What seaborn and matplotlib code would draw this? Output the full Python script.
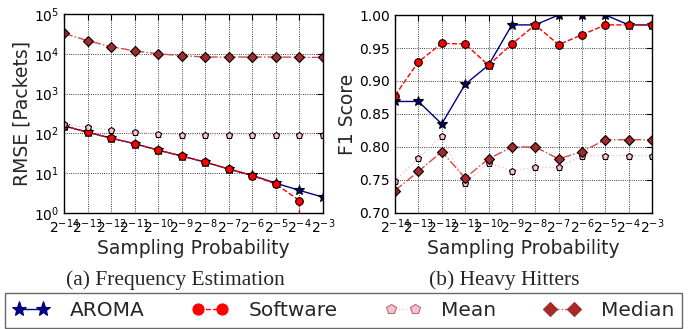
import matplotlib
matplotlib.use('Agg')
import matplotlib.pyplot as plt
from matplotlib.lines import Line2D
import seaborn as sns
import pandas as pd

# sampling probabilities 2^-14 ... 2^-3
sampling_prob = [2**-14, 2**-13, 2**-12, 2**-11, 2**-10, 2**-9,
                 2**-8, 2**-7, 2**-6, 2**-5, 2**-4, 2**-3]

# (a) frequency estimation, RMSE in packets
rmse_aroma = [155, 107, 76, 55, 38, 27, 19, 12.7, 8.8, 5.6, 3.7, 2.5]
rmse_software = [155, 107, 76, 55, 38, 27, 19, 12.7, 8.7, 5.3, 2.05, 0]
rmse_mean = [170, 142, 122, 107, 98, 93, 92, 92, 92, 92, 92, 92]
rmse_median = [32700, 21400, 15200, 11800, 10000, 9000, 8300, 8300, 8300, 8300, 8200, 8100]

# (b) heavy hitters, F1 score
f1_aroma = [0.869, 0.869, 0.835, 0.895, 0.924, 0.985, 0.985, 1.0, 1.0, 1.0, 0.985, 0.985]
f1_software = [0.878, 0.929, 0.957, 0.956, 0.924, 0.956, 0.985, 0.955, 0.970, 0.985, 0.985, 0.985]
f1_mean = [0.749, 0.783, 0.816, 0.745, 0.776, 0.764, 0.769, 0.769, 0.787, 0.787, 0.787, 0.787]
f1_median = [0.734, 0.763, 0.793, 0.753, 0.782, 0.80, 0.80, 0.782, 0.793, 0.811, 0.811, 0.811]

series = ['AROMA', 'Software', 'Mean', 'Median']
styles = {
    'AROMA': dict(color='navy', linestyle='-', marker='*', markersize=7.5, markerfacecolor='navy'),
    'Software': dict(color='red', linestyle='--', marker='o', markersize=5.5, markerfacecolor='red'),
    'Mean': dict(color='pink', linestyle=':', marker='p', markersize=5, markerfacecolor='pink'),
    'Median': dict(color='#d24a4a', linestyle='-.', marker='D', markersize=5, markerfacecolor='brown'),
}
legend_edges = {'AROMA': 'navy', 'Software': 'red', 'Mean': '#b07080', 'Median': 'brown'}

sns.set_style('white')
plt.rcParams['font.family'] = ['DejaVu Sans']
plt.rcParams['mathtext.fontset'] = 'dejavusans'

fig = plt.figure(figsize=(6.93, 3.29), dpi=100)
ax1 = fig.add_axes([0.0924, 0.3526, 0.3737, 0.6048])
ax2 = fig.add_axes([0.570, 0.3526, 0.3710, 0.6018])

panels = [
    (ax1, [rmse_aroma, rmse_software, rmse_mean, rmse_median]),
    (ax2, [f1_aroma, f1_software, f1_mean, f1_median]),
]
for ax, values in panels:
    for name, vals in zip(series, values):
        df = pd.DataFrame({'p': sampling_prob, 'v': vals})
        sns.lineplot(data=df, x='p', y='v', ax=ax, legend=False, linewidth=1,
                     markeredgecolor='black', markeredgewidth=0.8, **styles[name])

for ax in (ax1, ax2):
    ax.set_xscale('log', base=2)
    ax.set_xlim(2**-14, 2**-3)
    ax.set_xticks(sampling_prob)
    ax.minorticks_off()
    ax.grid(True, color='black', linestyle=':', linewidth=0.6)
    ax.tick_params(direction='in', top=True, right=True, labelsize=10, length=4, width=0.8, colors='black')
    for s in ax.spines.values():
        s.set_color('black')
        s.set_linewidth(1)
    ax.set_xlabel('Sampling Probability', fontsize=13.5, labelpad=2)

ax1.set_yscale('log')
ax1.set_ylim(1, 1e5)
ax1.minorticks_off()
ax1.set_ylabel('RMSE [Packets]', fontsize=13.5, labelpad=2)

ax2.set_ylim(0.70, 1.00)
ax2.set_yticks([0.70, 0.75, 0.80, 0.85, 0.90, 0.95, 1.00])
ax2.set_yticklabels(['0.70', '0.75', '0.80', '0.85', '0.90', '0.95', '1.00'])
ax2.set_ylabel('F1 Score', fontsize=13.5, labelpad=2)

fig.text(175 / 693, 1 - 285 / 329, '(a) Frequency Estimation', ha='center', va='baseline',
         fontsize=15.5, family='Liberation Serif')
fig.text(504 / 693, 1 - 285 / 329, '(b) Heavy Hitters', ha='center', va='baseline',
         fontsize=15.5, family='Liberation Serif')

handles = []
for name in series:
    st = dict(styles[name])
    st['markersize'] = st['markersize'] * 1.45
    handles.append(Line2D([], [], linewidth=1, markeredgecolor=legend_edges[name],
                          markeredgewidth=0.8, **st))
leg = fig.legend(handles, series, loc='lower left', ncol=4, mode='expand',
                 bbox_to_anchor=(5 / 693, 0.004, 677 / 693, 37 / 329), fontsize=14.5,
                 numpoints=2, handlelength=1.8, handletextpad=1.0, frameon=True, fancybox=False,
                 borderaxespad=0, borderpad=0.4)
leg.get_frame().set_edgecolor('#444444')
leg.get_frame().set_linewidth(1)

fig.savefig('out.png', dpi=100)
